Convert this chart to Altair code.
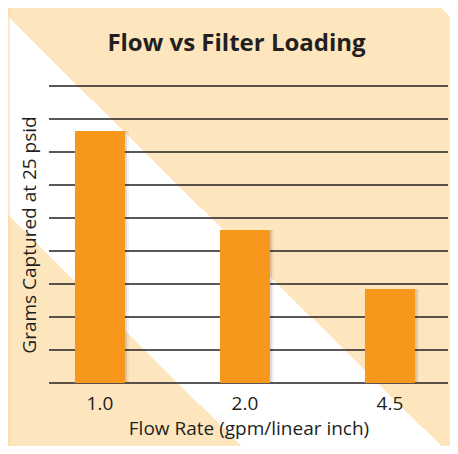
import altair as alt
import pandas as pd

# ---- data ----
categories = ["1.0", "2.0", "4.5"]
values = [7.64, 4.64, 2.85]
grid_values = [0, 1, 2, 3, 4, 5, 6, 7, 8, 9]

W, H = 399, 297
PAD = {"left": 41, "top": 78, "right": 2, "bottom": 63}

bars_df = pd.DataFrame({"flow": categories, "grams": values})
grid_df = pd.DataFrame({"grams": grid_values})
one_df = pd.DataFrame({"a": [0]})

peach = "#fde6be"
white = "#ffffff"
ink = "#231f20"
orange = "#f7981d"
FONT = "Open Sans"

stripes = alt.LinearGradient(
    gradient="linear",
    x1=0, y1=1, x2=1, y2=0,
    stops=[
        alt.GradientStop(color=peach, offset=0),
        alt.GradientStop(color=peach, offset=0.264),
        alt.GradientStop(color=white, offset=0.264),
        alt.GradientStop(color=white, offset=0.49),
        alt.GradientStop(color=peach, offset=0.49),
        alt.GradientStop(color=peach, offset=0.99),
        alt.GradientStop(color=white, offset=0.99),
        alt.GradientStop(color=white, offset=1),
    ],
)

canvas_w = W + PAD["left"] + PAD["right"]
canvas_h = H + PAD["top"] + PAD["bottom"]

bg = alt.Chart(one_df).mark_rect(color=stripes).encode(
    x=alt.value(-PAD["left"]), x2=alt.value(canvas_w - PAD["left"]),
    y=alt.value(-PAD["top"]), y2=alt.value(canvas_h - PAD["top"]),
)

border = alt.Chart(one_df).mark_rule(color="#fdd58c", strokeWidth=1).encode(
    x=alt.value(-PAD["left"] + 1),
    y=alt.value(-PAD["top"]), y2=alt.value(canvas_h - PAD["top"]),
)

yscale = alt.Scale(domain=[0, 9], nice=False, zero=True)
yaxis = alt.Axis(
    title="Grams Captured at 25 psid", labels=False, ticks=False, domain=False,
    grid=False, titleFont=FONT, titleFontSize=19, titleFontWeight="normal",
    titleColor=ink, titlePadding=10, zindex=2,
)

grid = alt.Chart(grid_df).mark_rule(color=ink, strokeWidth=1.4).encode(
    y=alt.Y("grams:Q", scale=yscale, axis=yaxis),
    x=alt.value(0), x2=alt.value(W),
)

xenc = alt.X(
    "flow:N", sort=categories,
    scale=alt.Scale(paddingInner=0.6552, paddingOuter=0.2034, align=0.44),
    axis=alt.Axis(
        title="Flow Rate (gpm/linear inch)", labelAngle=0, domain=False, ticks=False,
        labelFont=FONT, labelFontSize=19, labelColor=ink, labelPadding=11,
        titleFont=FONT, titleFontSize=19, titleFontWeight="normal", titleColor=ink,
        titlePadding=6, zindex=2,
    ),
)
yenc = alt.Y("grams:Q", scale=yscale, axis=yaxis)

shadow1 = alt.Chart(bars_df).mark_bar(color="#000000", opacity=0.10, xOffset=2).encode(x=xenc, y=yenc)
shadow2 = alt.Chart(bars_df).mark_bar(color="#000000", opacity=0.05, xOffset=4).encode(x=xenc, y=yenc)
bars = alt.Chart(bars_df).mark_bar(color=orange).encode(x=xenc, y=yenc)

chart = alt.layer(bg, border, grid, shadow2, shadow1, bars).properties(
    width=W, height=H,
    title=alt.TitleParams(
        "Flow vs Filter Loading", font=FONT, fontSize=24, fontWeight="bold",
        color=ink, anchor="middle", frame="group", baseline="alphabetic",
        offset=0, dy=67, dx=-12, zindex=2,
    ),
    autosize=alt.AutoSizeParams(type="none"),
    padding=PAD,
    background="#ffffff",
).configure_view(stroke=None)

chart.save("out.html", embed_options={"renderer": "svg", "actions": False})
